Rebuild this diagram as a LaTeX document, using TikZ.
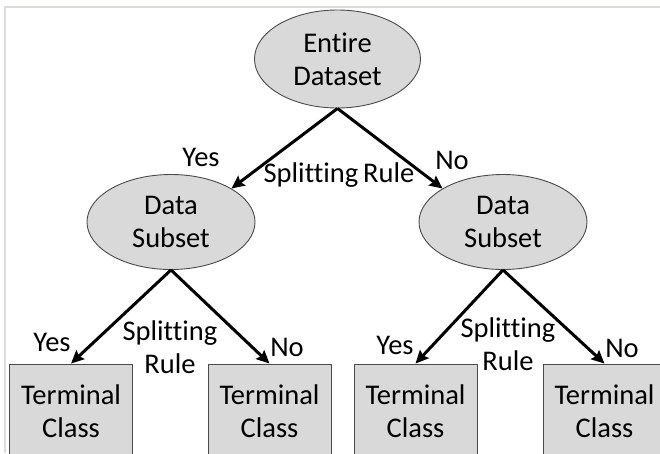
\documentclass[tikz,border=0pt]{standalone}
\usepackage{fontspec}
\setmainfont{Carlito}[Ligatures=NoCommon]
\usetikzlibrary{shapes.geometric,arrows.meta}
\definecolor{boxfill}{HTML}{D9D9D9}
\definecolor{edgegray}{HTML}{4A4A4A}
\definecolor{framegray}{HTML}{DCDCDA}
\begin{document}
\begin{tikzpicture}[x=1pt,y=-1pt,
  every node/.style={font=\fontsize{28.5}{33}\selectfont},
  ovalnode/.style={ellipse,draw=edgegray,line width=0.9pt,fill=boxfill,inner sep=0pt,align=center},
  termbox/.style={rectangle,draw=edgegray,line width=0.9pt,fill=boxfill,inner sep=0pt,
    minimum width=123pt,minimum height=94pt,align=center},
  arr/.style={line width=3pt,-{Stealth[length=13pt,width=12pt,inset=2pt]}},
  lbl/.style={inner sep=0pt}]
\useasboundingbox (0,0) rectangle (660,453);
\clip (0,0) rectangle (660,453);
\draw[framegray,line width=1.5pt] (5,453) -- (5,7) -- (660,7);

\node[ovalnode,minimum width=166pt,minimum height=98pt] (root) at (337.5,59) {Entire\\Dataset};
\node[ovalnode,minimum width=168pt,minimum height=95pt] (ds1) at (171,222) {Data\\Subset};
\node[ovalnode,minimum width=168pt,minimum height=95pt] (ds2) at (503,222) {Data\\Subset};

\node[termbox] (t1) at (71,411) {Terminal\\Class};
\node[termbox] (t2) at (269.5,411) {Terminal\\Class};
\node[termbox] (t3) at (415.5,411) {Terminal\\Class};
\node[termbox] (t4) at (604.5,411) {Terminal\\Class};

\draw[arr] (root.south) -- (ds1.29);
\draw[arr] (root.south) -- (ds2.151);
\draw[arr] (ds1.south) -- (t1.north);
\draw[arr] (ds1.south) -- (t2.north);
\draw[arr] (ds2.south) -- (t3.north);
\draw[arr] (ds2.south) -- (t4.north);

\node[lbl] (y0) at (201,157) {Yes};
\node[lbl] (s0) at (339,175) {Splitting\,Rule};
\node[lbl] (n0) at (452,160) {No};

\node[lbl] (y1) at (52,342) {Yes};
\node[lbl,align=center] (s1) at (170,347) {Splitting\\Rule};
\node[lbl] (n1) at (287,347) {No};

\node[lbl] (y2) at (395,345) {Yes};
\node[lbl,align=center] (s2) at (508,344) {Splitting\\Rule};
\node[lbl] (n2) at (622,348) {No};
\end{tikzpicture}
\end{document}
